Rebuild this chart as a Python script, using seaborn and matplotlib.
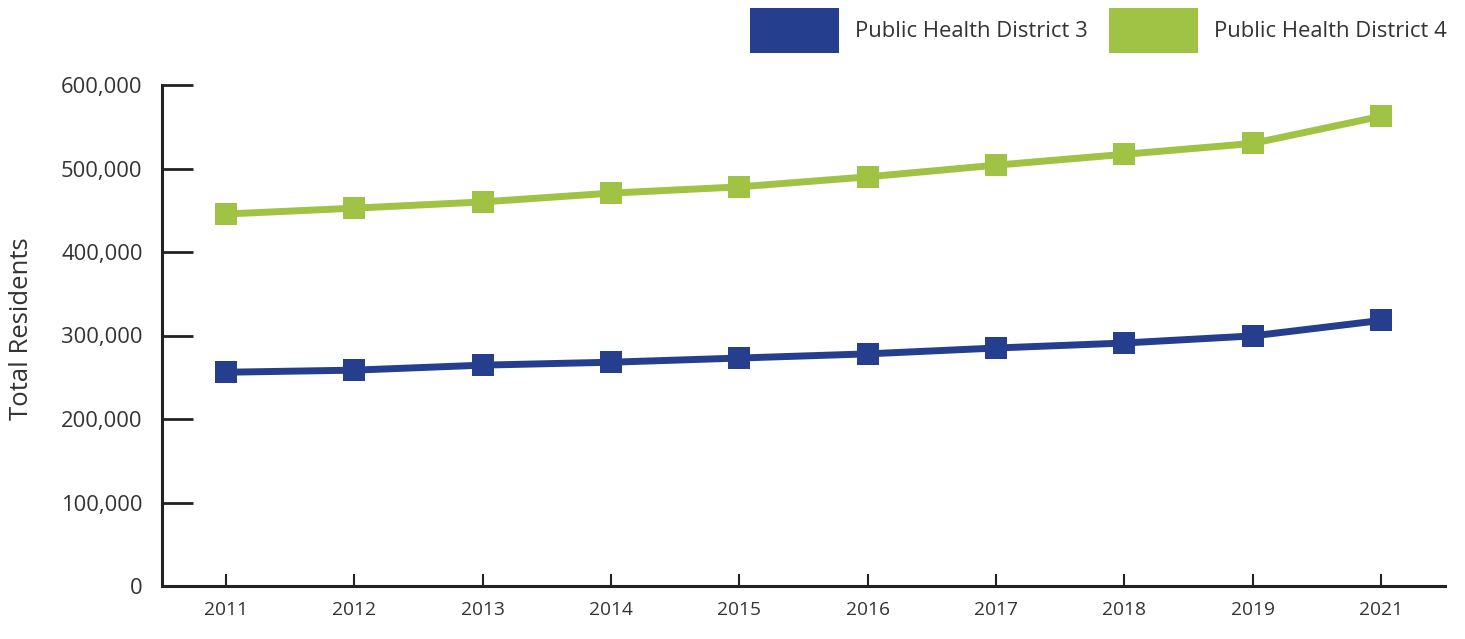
import matplotlib
matplotlib.use("Agg")
import matplotlib.pyplot as plt
import seaborn as sns
import pandas as pd
from matplotlib.patches import Patch

years = ["2011", "2012", "2013", "2014", "2015", "2016", "2017", "2018", "2019", "2021"]
district3 = [256000, 258500, 264500, 268000, 273000, 278000, 285000, 291000, 299500, 318000]
district4 = [445500, 452500, 460000, 470500, 478000, 490000, 504000, 517000, 530000, 562500]
series_names = ["Public Health District 3", "Public Health District 4"]
colors = ["#253F8E", "#A0C346"]
yticks = [0, 100000, 200000, 300000, 400000, 500000, 600000]

df = pd.DataFrame({
    "Year": years * 2,
    "Residents": district3 + district4,
    "District": [series_names[0]] * len(years) + [series_names[1]] * len(years),
})

sns.set_style("white")
plt.rcParams["font.family"] = ["Open Sans", "DejaVu Sans"]
text_color = "#333333"

fig = plt.figure(figsize=(14.65, 6.39), dpi=100)
ax = fig.add_axes([162 / 1465, 1 - 586 / 639, (1445 - 162) / 1465, (586 - 85) / 639])

sns.lineplot(data=df, x="Year", y="Residents", hue="District", palette=colors,
             style="District", markers=["s", "s"], dashes=False, sort=False,
             linewidth=5, markersize=16, markeredgewidth=0, ax=ax, legend=False)

ax.set_xlim(-0.5, len(years) - 0.5)
ax.set_ylim(0, 600000)
ax.set_yticks(yticks)
ax.set_yticklabels([f"{v:,}" for v in yticks])
ax.set_xlabel("")
ax.set_ylabel("Total Residents", fontsize=18.5, color=text_color)
ax.yaxis.set_label_coords((34 - 162) / 1283, 0.513)

for side in ["top", "right"]:
    ax.spines[side].set_visible(False)
for side in ["left", "bottom"]:
    ax.spines[side].set_color("#222222")
    ax.spines[side].set_linewidth(2.2)

ax.tick_params(axis="y", direction="in", length=22, width=2, color="#222222",
               pad=14, labelsize=15.8, labelcolor=text_color, left=True)
ax.tick_params(axis="x", direction="in", length=8.5, width=1.5, color="#222222",
               pad=11, labelsize=13.8, labelcolor=text_color, bottom=True)

handles = [Patch(facecolor=c, edgecolor="none") for c in colors]
fig.legend(handles, series_names, loc="upper right",
           bbox_to_anchor=(1447 / 1465, 1 - 8 / 639), bbox_transform=fig.transFigure,
           ncol=2, frameon=False, fontsize=15.8, labelcolor=text_color,
           handlelength=4.05, handleheight=2.75, handletextpad=0.75,
           columnspacing=0.95, borderpad=0, borderaxespad=0)

fig.savefig("out.png", dpi=100)
